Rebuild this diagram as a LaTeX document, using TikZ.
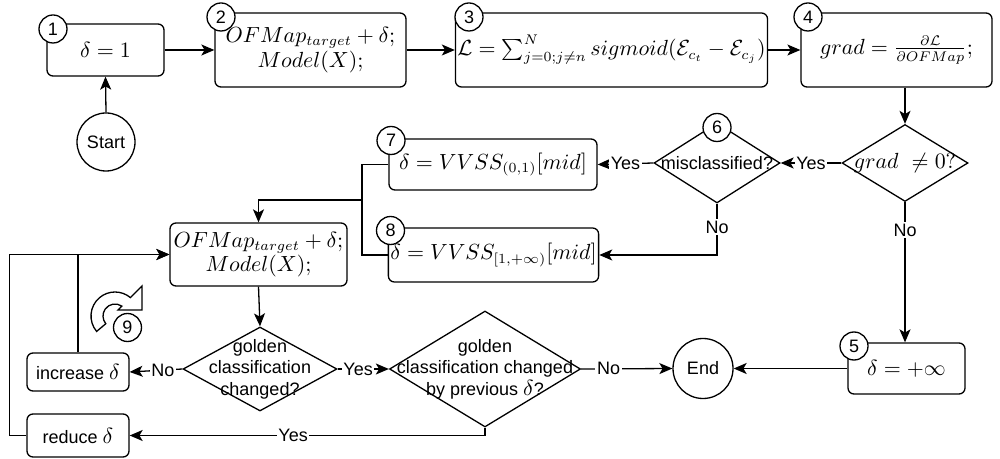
\documentclass[tikz,border=0pt]{standalone}
\usepackage{amsmath}
\usepackage{amssymb}
\usepackage{fontspec}
\setsansfont{Liberation Sans}
\usepackage{tikz}
\usetikzlibrary{arrows.meta,calc,shapes.geometric}

\newcommand{\buyukdelta}{{\fontsize{10.5}{12}\selectfont$\delta$}}

\begin{document}
\begin{tikzpicture}[x=0.5pt,y=-0.5pt,line width=0.65pt,
  >={Stealth[length=6.5pt,width=5.5pt,inset=1.6pt]},
  kutu/.style={draw,rounded corners=3pt,align=center,inner sep=1pt,font=\fontsize{10.5}{10.5}\selectfont},
  karar/.style={draw,diamond,inner sep=0pt},
  yazi/.style={font=\sffamily\fontsize{9}{10.75}\selectfont,align=center},
  formul/.style={font=\fontsize{10.5}{12}\selectfont},
  daire/.style={draw,circle,inner sep=0pt,font=\sffamily\fontsize{9}{10}\selectfont},
  numara/.style={draw,circle,fill=white,minimum size=14pt,inner sep=0pt,font=\sffamily\fontsize{9}{10}\selectfont},
  etiket/.style={fill=white,inner sep=0.8pt,font=\sffamily\fontsize{9}{10}\selectfont}]
\useasboundingbox (0,0) rectangle (1000,459);
% ust satir
\node[daire,minimum size=29pt] (basla) at (106,142) {Start};
\node[kutu,minimum width=58.5pt,minimum height=26pt] (k1) at (105.5,50) {$\delta=1$};
\node[kutu,minimum width=95.5pt,minimum height=37pt] (k2) at (310.5,50) {$OFMap_{target}+\delta;$\\$Model(X);$};
\node[kutu,minimum width=146.5pt,minimum height=37pt] (k3) at (611.5,50) {$\mathcal{L}=\sum_{j=0;j\neq n}^{N} sigmoid(\mathcal{E}_{c_t}-\mathcal{E}_{c_j})$};
\node[kutu,minimum width=95.5pt,minimum height=37pt] (k4) at (896.5,50) {$grad=\frac{\partial\mathcal{L}}{\partial OFMap};$};
% kararlar
\node[karar,minimum width=63pt,minimum height=38.5pt,label={[formul]center:$grad~\neq 0?$}] (grad) at (905,163) {};
\node[karar,minimum width=63pt,minimum height=40pt,label={[yazi]center:misclassified?}] (yanlis) at (717,163) {};
\node[kutu,minimum width=104pt,minimum height=25.5pt] (k7) at (493,164.5) {$\delta=VVSS_{(0,1)}[mid]$};
\node[kutu,minimum width=104.5pt,minimum height=27pt] (k8) at (493.5,255) {$\delta=VVSS_{[1,+\infty)}[mid]$};
\node[kutu,minimum width=58.5pt,minimum height=25.5pt] (k5) at (906.5,368.5) {$\delta=+\infty$};
\node[daire,minimum size=30pt] (bitir) at (703,368.5) {End};
% dongu
\node[kutu,minimum width=88.5pt,minimum height=31.5pt] (k9) at (258.5,254.5) {$OFMap_{target}+\delta;$\\$Model(X);$};
\node[karar,minimum width=77pt,minimum height=42pt,label={[yazi]center:golden\\classification\\changed?}] (altin) at (260,369) {};
\node[karar,minimum width=95.5pt,minimum height=58pt,label={[yazi]center:golden\\classification changed\\by previous \buyukdelta?}] (onceki) at (485,369) {};
\node[kutu,yazi,minimum width=51pt,minimum height=19pt] (artir) at (78,372) {increase \buyukdelta};
\node[kutu,yazi,minimum width=51pt,minimum height=21.5pt] (azalt) at (78,435.5) {reduce \buyukdelta};
\coordinate (birles) at (362,200);
% oklar
\draw[->] (basla.north) -- (k1.south);
\draw[->] (k1.east) -- (k2.west);
\draw[->] (k2.east) -- (k3.west);
\draw[->] (k3.east) -- (k4.west);
\draw[->] (grad.north |- k4.south) -- (grad.north);
\draw[->] (grad.west) -- node[etiket]{Yes} (yanlis.east);
\draw[->] (yanlis.west) -- node[etiket]{Yes} (k7.east);
\draw[->] (grad.south) -- node[etiket,pos=0.2]{No} (grad.south |- k5.north);
\draw[->] (yanlis.south) |- node[etiket,pos=0.23]{No} (k8.east);
\draw[->] (k7.west) -| (birles) -| (k9.north);
\draw (k8.west) -| (birles);
\draw[->] (k9.south) -- (altin.north);
\draw[->] (altin.west) -- node[etiket,pos=0.37]{No} (artir.east);
\draw[->] (altin.east) -- node[etiket,pos=0.4]{Yes} (onceki.west);
\draw[->] (onceki.east) -- node[etiket,pos=0.3]{No} (bitir.west);
\draw[->] (k5.west) -- (bitir.east);
\draw[->] (onceki.south) |- node[etiket,pos=0.77]{Yes} (azalt.east);
\draw[->] (artir.north) |- (k9.west);
\draw[->] (azalt.west) -- ++(-17,0) |- (k9.west);
% donus simgesi
\coordinate (dm) at (115,316);
\filldraw[fill=white] ($(dm)+(140:24)$) arc[start angle=140,end angle=310,radius=24] -- (142,286) -- (142,310) -- (118,310) -- ($(dm)+(305:12)$) arc[start angle=305,end angle=140,radius=12] -- cycle;
% numaralar
\node[numara] (n1) at (53,29) {1};
\node[numara] (n2) at (221,17) {2};
\node[numara] (n3) at (469,17) {3};
\node[numara] (n4) at (808,17) {4};
\node[numara] (n5) at (854,346) {5};
\node[numara] (n6) at (717,127.5) {6};
\node[numara] (n7) at (391,140.5) {7};
\node[numara] (n8) at (390.5,230.5) {8};
\node[numara] (n9) at (127.5,327.5) {9};
\end{tikzpicture}
\end{document}
